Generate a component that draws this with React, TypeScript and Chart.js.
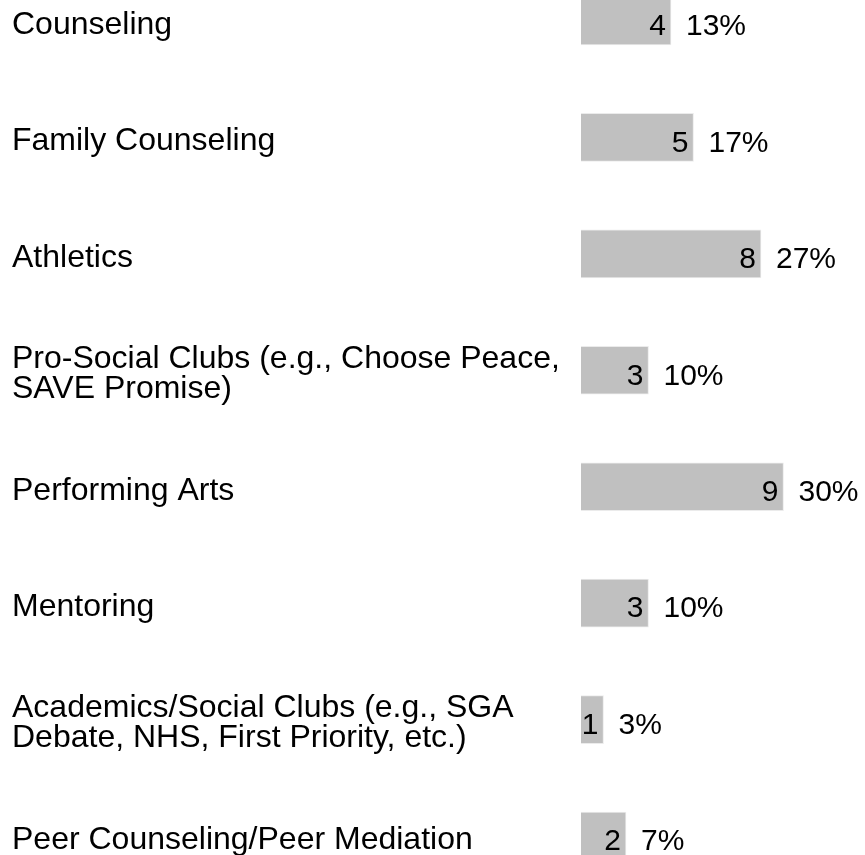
import React, { useEffect, useRef } from 'react';
import { Chart, registerables } from 'chart.js';

Chart.register(...registerables);

const categories: (string | string[])[] = [
  'Counseling',
  'Family Counseling',
  'Athletics',
  ['Pro-Social Clubs (e.g., Choose Peace,', 'SAVE Promise)'],
  'Performing Arts',
  'Mentoring',
  ['Academics/Social Clubs (e.g., SGA', 'Debate, NHS, First Priority, etc.)'],
  'Peer Counseling/Peer Mediation',
];
const counts = [4, 5, 8, 3, 9, 3, 1, 2];
const percents = ['13%', '17%', '27%', '10%', '30%', '10%', '3%', '7%'];

const FONT_FAMILY = '"Liberation Sans", Arial, Helvetica, sans-serif';

const valueLabels = {
  id: 'valueLabels',
  afterDatasetsDraw(chart: any) {
    const ctx = chart.ctx;
    const meta = chart.getDatasetMeta(0);
    ctx.save();
    ctx.font = `30px ${FONT_FAMILY}`;
    ctx.fillStyle = '#000';
    ctx.textBaseline = 'middle';
    meta.data.forEach((bar: any, i: number) => {
      const end = bar.x;
      const y = bar.y + 6;
      ctx.textAlign = 'right';
      ctx.fillText(String(counts[i]), end - 5, y);
      ctx.textAlign = 'left';
      ctx.fillText(percents[i], end + 15, y);
    });
    ctx.restore();
  },
};

export default function App() {
  const ref = useRef<HTMLCanvasElement>(null);
  useEffect(() => {
    document.body.style.margin = '0';
    if (!ref.current) return;
    const chart = new Chart(ref.current, {
      type: 'bar',
      data: {
        labels: categories as any,
        datasets: [
          {
            data: counts,
            backgroundColor: '#c0c0c0',
            borderColor: '#ebebeb',
            borderWidth: 1,
            barThickness: 48,
            clip: false as any,
          },
        ],
      },
      options: {
        indexAxis: 'y',
        animation: false,
        responsive: true,
        maintainAspectRatio: false,
        layout: { padding: { left: 12, right: 14, top: 21, bottom: 19 } },
        plugins: { legend: { display: false }, tooltip: { enabled: false } },
        scales: {
          x: { display: false, min: 0, max: 12 },
          y: {
            type: 'category',
            offset: false,
            grid: { display: false },
            border: { display: false },
            ticks: {
              autoSkip: false,
              crossAlign: 'far',
              color: '#000',
              padding: 0,
              labelOffset: 4,
              font: { size: 32, family: FONT_FAMILY, lineHeight: '30px' },
            },
            afterFit: (s: any) => {
              s.width = 569;
            },
          },
        },
      },
      plugins: [valueLabels],
    });
    return () => chart.destroy();
  }, []);
  return (
    <div style={{ position: 'relative', width: 865, height: 855 }}>
      <canvas ref={ref} />
    </div>
  );
}
